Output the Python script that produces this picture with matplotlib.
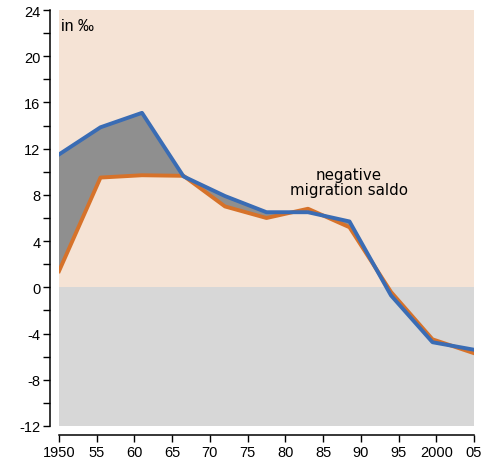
import matplotlib.pyplot as plt
import numpy as np

# data (per mille)
years = [1950, 1955.5, 1961, 1966.5, 1972, 1977.5, 1983, 1988.5, 1994, 1999.5, 2005]
blue_vals = [11.5, 13.85, 15.1, 9.6, 7.9, 6.5, 6.5, 5.7, -0.7, -4.75, -5.4]
orange_vals = [1.4, 9.5, 9.7, 9.65, 7.0, 6.0, 6.8, 5.2, -0.4, -4.5, -5.7]

xticks = [1950, 1955, 1960, 1965, 1970, 1975, 1980, 1985, 1990, 1995, 2000, 2005]
xticklabels = ['1950', '55', '60', '65', '70', '75', '80', '85', '90', '95', '2000', '05']
yticks = [-12, -8, -4, 0, 4, 8, 12, 16, 20, 24]

plt.rcParams['font.family'] = ['Liberation Sans', 'DejaVu Sans']
plt.rcParams['axes.unicode_minus'] = False

fig = plt.figure(figsize=(4.9, 4.6), dpi=100)
ax = fig.add_axes([59/490, 33/460, 415/490, 416/460])

ax.axhspan(0, 24, color='#f5e3d5', lw=0, zorder=0)
ax.axhspan(-12, 0, color='#d7d7d7', lw=0, zorder=0)

b = np.array(blue_vals)
o = np.array(orange_vals)
ax.fill_between(years, b, o, where=b >= o, interpolate=True, color='#8f8f8f', lw=0, zorder=1)
ax.plot(years, orange_vals, color='#d6722a', lw=2.8, zorder=2)
ax.plot(years, blue_vals, color='#3a6cb4', lw=2.8, zorder=3)

ax.set_xlim(1950, 2005)
ax.set_ylim(-12, 24)
ax.set_xticks(xticks)
ax.set_xticklabels(xticklabels)
ax.set_yticks(yticks)
ax.set_yticks(np.arange(-10, 24, 4), minor=True)
ax.tick_params(axis='both', which='both', length=5, width=1.0, labelsize=10.5, pad=2)

for s in ['top', 'right']:
    ax.spines[s].set_visible(False)
for s in ['left', 'bottom']:
    ax.spines[s].set_linewidth(1.1)
ax.spines['left'].set_position(('outward', 6.5))
ax.spines['bottom'].set_position(('outward', 6.5))
ax.spines['left'].set_bounds(-12, 24)
ax.spines['bottom'].set_bounds(1950, 2005)

ax.text(1950.3, 23.3, 'in ‰', fontsize=11.5, va='top', ha='left')
ax.text(1988.4, 9.1, 'negative\nmigration saldo', fontsize=10.8, ha='center', va='center',
        linespacing=1.0, family='DejaVu Sans')

fig.savefig('out.png', dpi=100)
